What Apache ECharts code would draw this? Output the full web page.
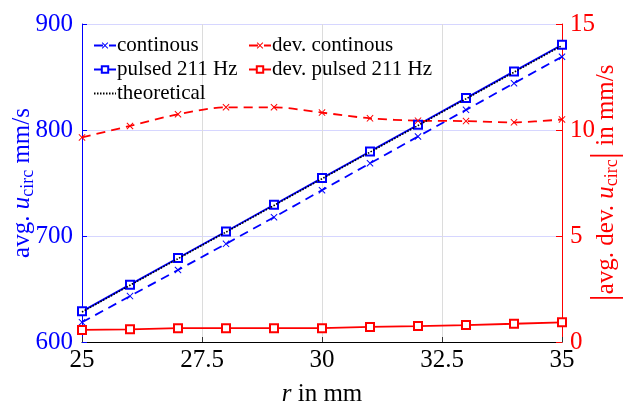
<!DOCTYPE html>
<html><head><meta charset="utf-8">
<script src="https://cdn.jsdelivr.net/npm/echarts@6/dist/echarts.min.js"></script>
<style>html,body{margin:0;padding:0;background:#fff}#c{width:627px;height:406px}</style>
</head><body><div id="c"></div>
<script>
const radii = [25, 26, 27, 28, 29, 30, 31, 32, 33, 34, 35];
const continous = [618.6, 643.3, 667.9, 692.6, 717.7, 743.2, 768.6, 793.8, 819.0, 844.1, 869.1];
const pulsed = [628.9, 654.1, 679.2, 704.3, 729.5, 754.6, 779.8, 804.9, 830.1, 855.3, 880.5];
const theoretical = [628.3, 653.5, 678.6, 703.7, 728.8, 754.0, 779.1, 804.2, 829.4, 854.5, 879.6];
const devContinous = [9.65, 10.19, 10.74, 11.07, 11.07, 10.82, 10.55, 10.44, 10.42, 10.36, 10.5];
const devPulsed = [0.57, 0.6, 0.65, 0.65, 0.65, 0.65, 0.71, 0.75, 0.8, 0.86, 0.93];

const FONT = '"Liberation Serif", "Times New Roman", serif';
const pairs = a => radii.map((r, i) => [r, a[i]]);
const XSYM = 'path://M0,1L1,0L5,4L9,0L10,1L6,5L10,9L9,10L5,6L1,10L0,9L4,5Z';
const BLUE = '#0000ff', RED = '#ff0000';

const chart = echarts.init(document.getElementById('c'));
chart.setOption({
  animation: false,
  textStyle: { fontFamily: FONT },
  grid: { left: 82, right: 65, top: 24, bottom: 64, containLabel: false, outerBoundsMode: 'none' },
  legend: [
    { left: 88, top: 30, orient: 'vertical', itemGap: 3, itemWidth: 22, itemHeight: 8,
      textStyle: { fontFamily: FONT, fontSize: 21, color: '#000', padding: [0, 0, 0, -4] },
      data: ['continous', 'pulsed 211 Hz', { name: 'theoretical', itemStyle: { opacity: 0 } }] },
    { left: 243, top: 30, orient: 'vertical', itemGap: 3, itemWidth: 22, itemHeight: 8,
      textStyle: { fontFamily: FONT, fontSize: 21, color: '#000', padding: [0, 0, 0, -4] },
      data: ['dev. continous', 'dev. pulsed 211 Hz'] }
  ],
  xAxis: {
    type: 'value', min: 25, max: 35, interval: 2.5,
    name: '{i|r} in mm', nameLocation: 'middle', nameGap: 40, nameMoveOverlap: false,
    nameTextStyle: { fontFamily: FONT, fontSize: 25, color: '#000',
      rich: { i: { fontFamily: FONT, fontSize: 25, fontStyle: 'italic', color: '#000' } } },
    axisLine: { lineStyle: { color: '#000', width: 1 } },
    axisTick: { inside: true, length: 5, lineStyle: { color: '#333' } },
    axisLabel: { fontFamily: FONT, fontSize: 25, color: '#000', margin: 6 },
    splitLine: { show: true, lineStyle: { color: '#dcdcdc', width: 1 } }
  },
  yAxis: [
    { type: 'value', min: 600, max: 900, interval: 100, position: 'left',
      name: '{a|avg. }{i|u}{s|circ}{a| mm/s}', nameLocation: 'middle', nameGap: 45, nameRotate: 90,
      nameMoveOverlap: false,
      nameTextStyle: { color: BLUE,
        rich: {
          a: { fontFamily: FONT, fontSize: 25, color: BLUE },
          i: { fontFamily: FONT, fontSize: 25, fontStyle: 'italic', color: BLUE },
          s: { fontFamily: FONT, fontSize: 18, color: BLUE, padding: [12, 0, 0, 0] }
        } },
      axisLine: { show: true, lineStyle: { color: BLUE, width: 1 } },
      axisTick: { show: true, inside: true, length: 5, lineStyle: { color: BLUE } },
      axisLabel: { fontFamily: FONT, fontSize: 25, color: BLUE, margin: 9 },
      splitLine: { show: true, lineStyle: { color: '#d6d6ff', width: 1 } }
    },
    { type: 'value', min: 0, max: 15, interval: 5, position: 'right',
      name: '{b||}{a|avg. dev. }{i|u}{s|circ}{b||}{a| in mm/s}', nameLocation: 'middle', nameGap: 26, nameRotate: 90,
      nameMoveOverlap: false,
      nameTextStyle: { color: RED,
        rich: {
          a: { fontFamily: FONT, fontSize: 25, color: RED },
          i: { fontFamily: FONT, fontSize: 25, fontStyle: 'italic', color: RED },
          s: { fontFamily: FONT, fontSize: 18, color: RED, padding: [12, 0, 0, 0] },
          b: { fontFamily: FONT, fontSize: 36, color: RED }
        } },
      axisLine: { show: true, lineStyle: { color: RED, width: 1 } },
      axisTick: { show: true, inside: true, length: 6, lineStyle: { color: RED } },
      axisLabel: { fontFamily: FONT, fontSize: 25, color: RED, margin: 8 },
      splitLine: { show: false }
    }
  ],
  series: [
    { name: 'continous', type: 'line', yAxisIndex: 0, data: pairs(continous),
      symbol: XSYM, symbolSize: 7, itemStyle: { color: BLUE },
      lineStyle: { color: BLUE, width: 1.8, type: [9, 6] }, z: 3 },
    { name: 'pulsed 211 Hz', type: 'line', yAxisIndex: 0, data: pairs(pulsed),
      symbol: 'emptyRect', symbolSize: 8, itemStyle: { color: BLUE, borderWidth: 1.6 },
      lineStyle: { color: BLUE, width: 1.8 }, z: 3 },
    { name: 'theoretical', type: 'line', yAxisIndex: 0, data: pairs(theoretical),
      symbol: 'none', itemStyle: { color: '#000' },
      lineStyle: { color: '#000', width: 1.6, type: [1.5, 1.5] }, z: 4 },
    { name: 'dev. continous', type: 'line', yAxisIndex: 1, data: pairs(devContinous),
      symbol: XSYM, symbolSize: 7, itemStyle: { color: RED },
      lineStyle: { color: RED, width: 1.8, type: [9, 6] }, smooth: 0.3, z: 3 },
    { name: 'dev. pulsed 211 Hz', type: 'line', yAxisIndex: 1, data: pairs(devPulsed),
      symbol: 'emptyRect', symbolSize: 8, itemStyle: { color: RED, borderWidth: 1.6 },
      lineStyle: { color: RED, width: 1.8 }, z: 3 }
  ]
});
</script></body></html>
